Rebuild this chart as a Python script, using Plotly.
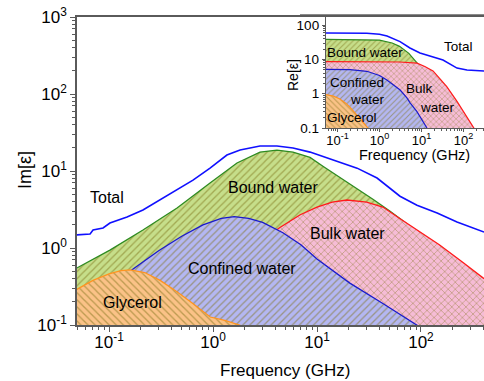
import plotly.graph_objects as go

# ---------------- data ----------------
# Main panel: Im[eps] vs frequency (GHz)
f_total = [0.049, 0.0657, 0.0702, 0.0876, 0.102, 0.149, 0.212, 0.309, 0.451, 0.642, 0.936,
           1.36, 1.82, 2.83, 4.12, 5.88, 8.57, 14.3, 24.3, 37.8, 62.8, 91.5, 143, 222, 404]
im_total = [1.48, 1.52, 1.71, 1.82, 2.11, 2.53, 3.12, 4.2, 5.7, 7.6, 10.9,
            16.1, 18.7, 21.1, 21.1, 19.9, 17.6, 13.9, 10.9, 8.1, 4.7, 3.6, 2.85, 2.18, 1.61]

f_bound = [0.049, 0.102, 0.212, 0.451, 0.936, 1.70, 2.83, 4.12, 5.88, 8.57, 11.4, 20.7, 34.5, 50.5, 100, 200, 404]
im_bound = [0.55, 0.94, 1.71, 3.31, 6.98, 12.7, 17.6, 18.7, 17.6, 15.0, 11.5, 6.8, 4.3, 3.0, 1.5, 0.75, 0.37]

f_bulk = [0.1, 0.3, 1, 2, 4.4, 6.9, 10, 14, 19.4, 30, 43, 63, 100, 150, 250, 404]
im_bulk = [0.045, 0.13, 0.43, 0.85, 1.85, 2.7, 3.4, 3.95, 4.2, 3.95, 3.4, 2.4, 1.6, 1.1, 0.66, 0.40]

f_conf = [0.049, 0.1, 0.178, 0.3, 0.5, 0.8, 1.2, 1.6, 2.2, 3.0, 4.7, 7, 10, 20.7, 43, 91, 150]
im_conf = [0.16, 0.32, 0.55, 0.92, 1.42, 2.0, 2.42, 2.55, 2.43, 2.15, 1.58, 1.1, 0.72, 0.35, 0.19, 0.1, 0.06]

f_gly = [0.049, 0.07, 0.1, 0.13, 0.16, 0.22, 0.31, 0.45, 0.64, 0.94, 1.3, 1.8, 2.5, 5]
im_gly = [0.29, 0.38, 0.46, 0.51, 0.52, 0.48, 0.38, 0.27, 0.19, 0.127, 0.115, 0.1, 0.08, 0.05]

# Inset: Re[eps] vs frequency (GHz)
f_re_total = [0.049, 0.5, 1.0, 1.51, 3.08, 5.3, 9.2, 18.8, 32.5, 70, 121, 308, 404]
re_total = [59, 58, 54, 48, 33, 21.5, 15.4, 11.8, 9.6, 5.6, 4.9, 4.6, 4.5]

f_re_bound = [0.049, 0.3, 1, 2, 3, 5, 7, 10, 20, 40, 100, 300, 404]
re_bound = [38.5, 38.3, 36.5, 30, 24, 15, 9.2, 5.6, 1.6, 0.4, 0.066, 0.0075, 0.004]

f_re_bulk = [0.049, 1, 3, 7.8, 12, 18.8, 30, 40, 70, 121, 168, 250, 404]
re_bulk = [8.6, 8.6, 8.4, 7.8, 6.2, 4.6, 2.5, 1.6, 0.6, 0.21, 0.11, 0.05, 0.02]

f_re_conf = [0.049, 0.2, 0.5, 1, 1.5, 2.2, 3.1, 4.5, 5.3, 7.8, 10.8, 13.5, 20, 40]
re_conf = [5.1, 5.0, 4.5, 3.4, 2.5, 1.8, 1.28, 0.75, 0.55, 0.3, 0.15, 0.1, 0.05, 0.015]

f_re_gly = [0.049, 0.08, 0.114, 0.16, 0.2, 0.26, 0.34, 0.42, 0.53, 0.7, 1.0]
re_gly = [0.96, 0.85, 0.7, 0.52, 0.4, 0.28, 0.2, 0.14, 0.1, 0.06, 0.035]

main_yticks = [0.1, 1, 10, 100, 1000]
main_yticktext = ["10<sup>-1</sup>", "10<sup>0</sup>", "10<sup>1</sup>", "10<sup>2</sup>", "10<sup>3</sup>"]
main_xticks = [0.1, 1, 10, 100]
main_xticktext = ["10<sup>-1</sup>", "10<sup>0</sup>", "10<sup>1</sup>", "10<sup>2</sup>"]
inset_yticks = [0.1, 1, 10, 100]
inset_yticktext = ["0.1", "1", "10", "100"]

# ---------------- styling ----------------
W, H = 484, 381
L, R, T, B = 77, 0, 17, 56
FONT = "Liberation Sans, Arial, sans-serif"
OLIVE = "#7d7218"
AX = "#5a5a5a"


def px(x):   # page pixel -> paper
    return (x - L) / (W - L - R)


def py(y):
    return (H - B - y) / (H - T - B)


BASE = 1e-4


def closed(fs, vs):
    return list(fs) + [fs[-1], fs[0]], list(vs) + [BASE, BASE]


comps = [
    ("Bound", f_bound, im_bound, f_re_bound, re_bound, "#2e8b22", "#c6de8a", "/"),
    ("Bulk", f_bulk, im_bulk, f_re_bulk, re_bulk, "#ff1a1a", "#f6bcd6", "x"),
    ("Confined", f_conf, im_conf, f_re_conf, re_conf, "#1a1acc", "#b4b7f2", "/"),
    ("Glycerol", f_gly, im_gly, f_re_gly, re_gly, "#ff9420", "#fbc287", "\\"),
]

fig = go.Figure()

for name, fx, fy, rx, ry, lc, bg, shp in comps:
    xs, ys = closed(fx, fy)
    fig.add_trace(go.Scatter(
        x=xs, y=ys, mode="none", fill="toself", xaxis="x", yaxis="y",
        fillcolor=bg,
        fillpattern=dict(shape=shp, bgcolor=bg, fgcolor=OLIVE, size=5, solidity=0.26),
        showlegend=False, hoverinfo="skip"))
    fig.add_trace(go.Scatter(
        x=fx, y=fy, mode="lines", line=dict(color=lc, width=1.3),
        xaxis="x", yaxis="y", showlegend=False))

fig.add_trace(go.Scatter(x=f_total, y=im_total, mode="lines",
                         line=dict(color="#1010ff", width=1.6),
                         xaxis="x", yaxis="y", showlegend=False))

for name, fx, fy, rx, ry, lc, bg, shp in comps:
    xs, ys = closed(rx, ry)
    fig.add_trace(go.Scatter(
        x=xs, y=ys, mode="none", fill="toself", xaxis="x2", yaxis="y2",
        fillcolor=bg,
        fillpattern=dict(shape=shp, bgcolor=bg, fgcolor=OLIVE, size=4, solidity=0.28),
        showlegend=False, hoverinfo="skip"))
    fig.add_trace(go.Scatter(
        x=rx, y=ry, mode="lines", line=dict(color=lc, width=1.2),
        xaxis="x2", yaxis="y2", showlegend=False))

fig.add_trace(go.Scatter(x=f_re_total, y=re_total, mode="lines",
                         line=dict(color="#1010ff", width=1.5),
                         xaxis="x2", yaxis="y2", showlegend=False))


def minor_vals(lo, hi):
    out = []
    for e in range(lo, hi):
        for m in range(2, 10):
            out.append(m * 10 ** e)
    return out


fig.update_layout(
    width=W, height=H,
    margin=dict(l=L, r=R, t=T, b=B, pad=0),
    paper_bgcolor="white", plot_bgcolor="white",
    font=dict(family=FONT, color="black"),
    xaxis=dict(type="log", range=[-1.308, 2.606], domain=[0, 1], anchor="y",
               showgrid=False, zeroline=False, showline=True, linecolor=AX, linewidth=1.5,
               mirror=True, ticks="outside", ticklen=5, tickwidth=1.2, tickcolor=AX,
               tickmode="array", tickvals=main_xticks, ticktext=main_xticktext,
               tickfont=dict(size=17, family=FONT), ticklabelstandoff=-4,
               minor=dict(ticks="outside", ticklen=3, tickcolor=AX, tickmode="array",
                          tickvals=minor_vals(-2, 3))),
    yaxis=dict(type="log", range=[-1, 3], domain=[0, 1], anchor="x",
               showgrid=False, zeroline=False, showline=True, linecolor=AX, linewidth=1.5,
               ticks="outside", ticklen=5, tickwidth=1.2, tickcolor=AX,
               tickmode="array", tickvals=main_yticks, ticktext=main_yticktext,
               tickfont=dict(size=17, family=FONT),
               minor=dict(ticks="outside", ticklen=3, tickcolor=AX, tickmode="array",
                          tickvals=minor_vals(-1, 3))),
    xaxis2=dict(type="log", range=[-1.274, 2.488], domain=[px(326), 1], anchor="y2",
                showgrid=False, zeroline=False, showline=True, linecolor=AX, linewidth=1.3,
                ticks="outside", ticklen=3, tickwidth=1.1, tickcolor=AX,
                tickmode="array", tickvals=main_xticks, ticktext=main_xticktext,
                tickfont=dict(size=13, family=FONT), ticklabelstandoff=-3,
                minor=dict(ticks="outside", ticklen=2, tickcolor=AX, tickmode="array",
                           tickvals=minor_vals(-2, 3))),
    yaxis2=dict(type="log", range=[-1, 2.236], domain=[py(128), 1], anchor="x2",
                showgrid=False, zeroline=False, showline=True, linecolor=AX, linewidth=1.3,
                ticks="outside", ticklen=3, tickwidth=1.1, tickcolor=AX,
                tickmode="array", tickvals=inset_yticks, ticktext=inset_yticktext,
                tickfont=dict(size=13.5, family=FONT),
                minor=dict(ticks="outside", ticklen=2, tickcolor=AX, tickmode="array",
                           tickvals=minor_vals(-1, 3))),
    shapes=[dict(type="line", xref="paper", yref="paper", x0=px(300), x1=1,
                 y0=py(14.5), y1=py(14.5), line=dict(color="#8a8a8a", width=1))],
)


def label(text, x, y, size, angle=0):
    fig.add_annotation(text=text, x=px(x), y=py(y), xref="paper", yref="paper",
                       showarrow=False, xanchor="center", yanchor="middle",
                       textangle=angle, font=dict(size=size, family=FONT, color="black"))


label("Total", 107, 197, 16)
label("Bound water", 273, 187, 16)
label("Confined water", 242, 268, 16)
label("Bulk water", 347, 233, 16)
label("Glycerol", 132, 302, 16)
label("Frequency (GHz)", 285, 370, 17)
label("Im[ε]", 25, 170, 18, -90)

label("Bound water", 365, 52, 13.5)
label("Total", 458, 47, 13.5)
label("Confined", 357, 82, 13.5)
label("water", 367, 99, 13.5)
label("Bulk", 419, 88, 13.5)
label("water", 437, 107, 13.5)
label("Glycerol", 352, 117, 13.5)
label("Frequency (GHz)", 414, 155, 14.5)
label("Re[ε]", 293, 75, 14, -90)

fig.write_html("out.html", post_script="document.body.style.margin='0px';",
               config={"displayModeBar": False})
